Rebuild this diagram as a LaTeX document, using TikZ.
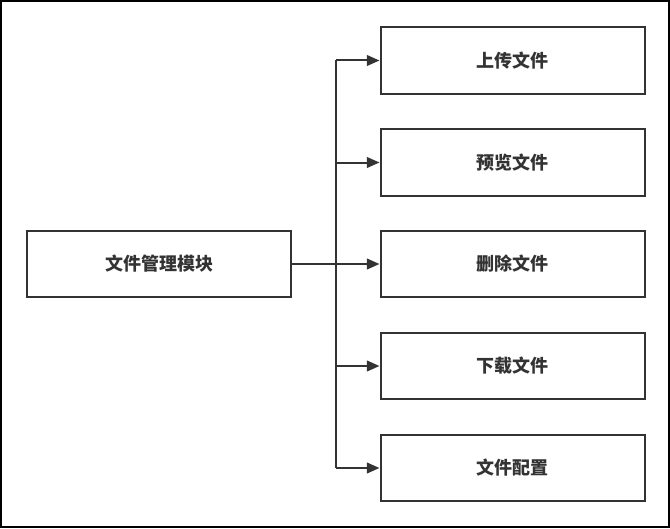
\documentclass[tikz,border=0pt]{standalone}
\usepackage{fontspec}
\setmainfont{Noto Sans CJK SC}
\usetikzlibrary{arrows.meta}
\definecolor{ink}{HTML}{333333}
\tikzset{
  box/.style={draw=ink, line width=1.5pt, minimum width=198pt, minimum height=50pt, inner sep=0pt, text=ink, font=\bfseries\fontsize{13.5pt}{16pt}\selectfont},
  conn/.style={draw=ink, line width=1.5pt},
  arr/.style={conn, -{Triangle[length=9.5pt, width=8pt]}}
}
\begin{document}
\begin{tikzpicture}[x=0.75pt, y=-0.75pt]
  \useasboundingbox (0,0) rectangle (670,528);
  \draw[black, line width=1.5pt] (1,1) rectangle (669,527);
  \node[box] (m) at (159,264) {文件管理模块};
  \node[box] (t1) at (512.5,60.5) {上传文件};
  \node[box] (t2) at (512.5,162.5) {预览文件};
  \node[box] (t3) at (512.5,264) {删除文件};
  \node[box] (t4) at (512.5,366) {下载文件};
  \node[box] (t5) at (512.5,468) {文件配置};
  \coordinate (j) at (336,264);
  \draw[conn] (m.east) -- (j);
  \draw[conn] (j |- t1.west) -- (j |- t5.west);
  \foreach \t in {t1,t2,t3,t4,t5}
    \draw[arr] (j |- \t.west) -- (\t.west);
\end{tikzpicture}
\end{document}
